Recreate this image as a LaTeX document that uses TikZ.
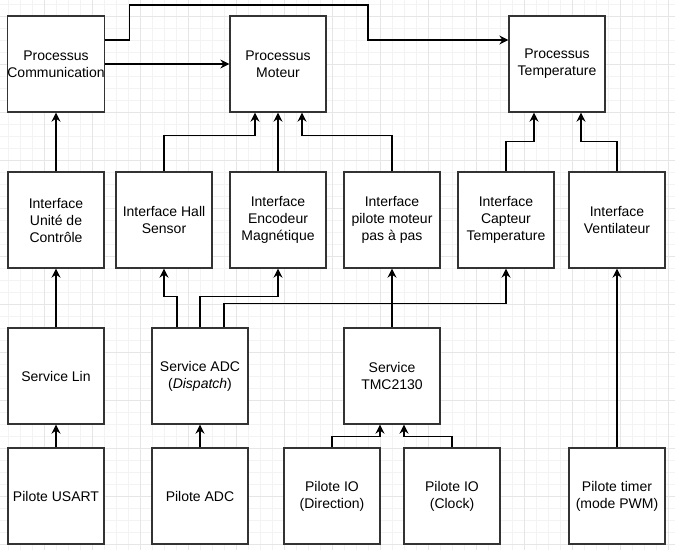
\documentclass[tikz,border=0pt]{standalone}
\usepackage{fontspec}
\setmainfont{Liberation Sans}
\usetikzlibrary{arrows.meta}
\definecolor{gridminor}{HTML}{F3F3F3}
\definecolor{gridmajor}{HTML}{E6E6E6}
\definecolor{boxline}{HTML}{333333}
\begin{document}
\begin{tikzpicture}[x=1pt,y=-1pt,
  block/.style={draw=boxline,line width=1.3pt,fill=white,minimum width=96pt,minimum height=96pt,
    inner sep=0pt,align=center,font=\fontsize{14}{17}\selectfont},
  arr/.style={draw=black,line width=1.3pt,-{Stealth[length=9pt,width=9pt,inset=3pt]}},
  link/.style={draw=black,line width=1.3pt}]
\useasboundingbox (0,0) rectangle (675,550);
\fill[white] (0,0) rectangle (675,550);
% background grid
\foreach \gx in {8,20,...,675} \draw[gridminor,line width=1pt] (\gx,0) -- (\gx,550);
\foreach \gy in {4,16,...,550} \draw[gridminor,line width=1pt] (0,\gy) -- (675,\gy);
\foreach \gx in {44,92,...,675} \draw[gridmajor,line width=1pt] (\gx,0) -- (\gx,550);
\foreach \gy in {16,64,...,550} \draw[gridmajor,line width=1pt] (0,\gy) -- (675,\gy);

% processes
\node[block] (pc) at (56,64) {Processus\\Communication};
\node[block] (pm) at (278,64) {Processus\\Moteur};
\node[block] (pt) at (557,64) {Processus\\Temperature};
% interfaces
\node[block] (iuc) at (56,220) {Interface\\Unité de\\Contrôle};
\node[block] (ihall) at (164,220) {Interface Hall\\Sensor};
\node[block] (ienc) at (278,220) {Interface\\Encodeur\\Magnétique};
\node[block] (ipil) at (392,220) {Interface\\pilote moteur\\pas à pas};
\node[block] (icap) at (506,220) {Interface\\Capteur\\Temperature};
\node[block] (ivent) at (617,220) {Interface\\Ventilateur};
% services
\node[block] (slin) at (56,376) {Service Lin};
\node[block] (sadc) at (200,376) {Service ADC\\(\textit{Dispatch})};
\node[block] (stmc) at (392,376) {Service\\TMC2130};
% drivers
\node[block] (pusart) at (56,496) {Pilote USART};
\node[block] (padc) at (200,496) {Pilote ADC};
\node[block] (piodir) at (332,496) {Pilote IO\\(Direction)};
\node[block] (pioclk) at (452,496) {Pilote IO\\(Clock)};
\node[block] (ptimer) at (617,496) {Pilote timer\\(mode PWM)};

% process links
\draw[arr] (pc.east) -- (pm.west);
\draw[arr] ([yshift=24pt]pc.east) -- ++(24,0) |- (368,5) |- ([yshift=24pt]pt.west);
\draw[arr] (iuc.north) -- (pc.south);
\draw[arr] (ihall.north) -- ++(0,-36) -| ([xshift=-23pt]pm.south);
\draw[arr] (ienc.north) -- (pm.south);
\draw[arr] (ipil.north) -- ++(0,-36) -| ([xshift=24pt]pm.south);
\draw[arr] (icap.north) -- ++(0,-30) -| ([xshift=-23pt]pt.south);
\draw[arr] (ivent.north) -- ++(0,-30) -| ([xshift=24pt]pt.south);
% service links
\draw[arr] (slin.north) -- (iuc.south);
\draw[arr] ([xshift=-23pt]sadc.north) -- ++(0,-31) -| (ihall.south);
\draw[arr] (sadc.north) -- ++(0,-31) -| (ienc.south);
\draw[arr] ([xshift=24pt]sadc.north) -- ++(0,-24) -| (icap.south);
\draw[arr] (stmc.north) -- (ipil.south);
% driver links
\draw[arr] (pusart.north) -- (slin.south);
\draw[arr] (padc.north) -- (sadc.south);
\draw[arr] (piodir.north) -- ++(0,-11) -| ([xshift=-12pt]stmc.south);
\draw[arr] (pioclk.north) -- ++(0,-11) -| ([xshift=12pt]stmc.south);
\draw[arr] (ptimer.north) -- (ivent.south);
\end{tikzpicture}
\end{document}
